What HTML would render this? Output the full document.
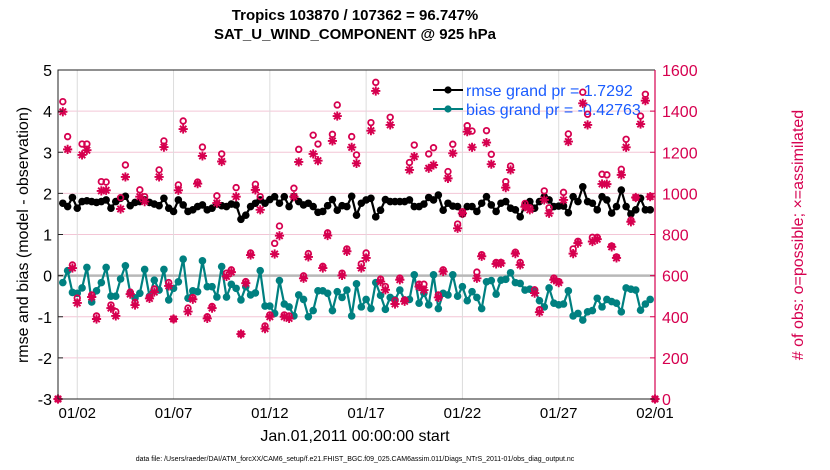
<!DOCTYPE html>
<html><head><meta charset="utf-8"><style>
html,body{margin:0;padding:0;background:#fff;}
svg{display:block;font-family:"Liberation Sans",sans-serif;}
</style></head><body>
<svg id="chart" width="830" height="470" viewBox="0 0 830 470" xmlns="http://www.w3.org/2000/svg">
<text x="355" y="20" text-anchor="middle" font-size="15" font-weight="bold">Tropics 103870 / 107362 = 96.747%</text>
<text x="355" y="39" text-anchor="middle" font-size="15" font-weight="bold">SAT_U_WIND_COMPONENT @ 925 hPa</text>
<g id="grid"></g>
<g id="marks"></g>
<g id="axes"></g>
<text transform="translate(28,235) rotate(-90)" text-anchor="middle" font-size="16">rmse and bias (model - observation)</text>
<text transform="translate(803,235) rotate(-90)" text-anchor="middle" font-size="16" fill="#d6004f"># of obs: o=possible; ×=assimilated</text>
<text x="355" y="441" text-anchor="middle" font-size="16">Jan.01,2011 00:00:00 start</text>
<text x="355" y="461" text-anchor="middle" font-size="7">data file: /Users/raeder/DAI/ATM_forcXX/CAM6_setup/f.e21.FHIST_BGC.f09_025.CAM6assim.011/Diags_NTrS_2011-01/obs_diag_output.nc</text>
</svg>
<script>
const rmse=[1.76,1.68,1.90,1.64,1.80,1.82,1.80,1.78,1.80,1.84,1.64,1.80,1.88,1.93,1.70,1.78,1.80,1.84,1.78,1.74,1.70,1.88,1.64,1.56,1.84,1.72,1.56,1.60,1.68,1.72,1.60,1.64,1.74,1.70,1.68,1.74,1.72,1.37,1.47,1.68,
1.76,1.84,1.76,1.85,1.92,1.76,1.92,1.68,1.92,1.80,1.72,1.76,1.68,1.54,1.56,1.70,1.85,1.59,1.70,1.68,1.93,1.47,1.76,1.84,1.88,1.43,1.59,1.85,1.80,1.80,1.80,1.80,1.84,1.68,1.68,1.74,1.90,1.84,1.96,1.59,1.76,
1.69,1.68,1.50,1.68,1.68,1.56,1.76,1.92,1.72,1.56,1.76,1.80,1.64,1.60,1.43,1.72,1.80,1.64,1.80,1.92,1.84,1.68,1.69,1.69,1.53,1.92,1.80,2.16,1.80,1.76,1.60,1.92,1.84,1.52,1.68,2.08,1.68,1.50,1.60,1.88,1.60,1.60];
const bias=[-0.17,0.12,-0.41,-0.43,-0.30,0.20,-0.64,-0.37,-0.17,0.20,-0.50,-0.50,-0.08,0.24,-0.42,-0.54,-0.43,0.15,-0.50,-0.11,-0.35,0.15,-0.59,-0.31,-0.15,0.40,-0.55,-0.37,-0.39,0.36,-0.27,-0.27,-0.52,0.22,-0.52,-0.21,-0.31,-0.59,-0.27,-0.47,
-0.42,0.12,-0.74,-0.74,-0.92,-0.12,-0.69,-0.76,-0.98,-0.47,-0.58,-1.00,-0.85,-0.37,-0.37,-0.43,-0.85,-0.39,-0.53,-0.35,-0.98,-0.20,-0.76,-0.58,-0.80,-0.17,-0.48,-0.82,-0.53,-0.59,-0.35,-0.59,-0.58,0.02,-0.67,-0.43,-0.71,0.02,-0.80,-0.43,-0.47,
0.02,-0.50,-0.27,-0.61,-0.39,-0.53,-0.80,-0.15,-0.12,-0.45,-0.11,-0.09,0.07,-0.17,-0.19,-0.35,-0.33,-0.35,-0.61,-0.76,-0.30,-0.67,-0.71,-0.69,-0.37,-0.98,-0.92,-1.08,-0.88,-0.85,-0.55,-0.76,-0.58,-0.63,-0.67,-0.88,-0.30,-0.33,-0.35,-0.84,-0.69,-0.58];
const nPossible=[0,1446,1276,652,491,1240,1240,506,404,1057,1055,457,425,979,1138,520,470,1017,984,496,535,1114,1255,566,389,1041,1352,442,493,1055,1225,400,450,988,1192,612,628,1028,316,571,710,
1044,984,355,409,757,841,409,404,1025,1214,599,707,1283,1240,645,808,1287,1430,612,730,1276,1187,657,710,1344,1540,583,547,1370,479,588,482,1150,1235,558,558,1192,1222,506,628,1106,
1239,851,911,1329,1303,617,702,1305,1190,664,664,1057,1133,714,664,951,930,531,434,1012,930,588,571,1005,1289,730,767,1492,1385,786,786,1093,1090,744,691,1117,1263,870,980,1376,1482,984,0];
const nAssim=[0,1397,1214,637,467,1187,1210,496,389,1012,1015,442,404,924,1080,510,457,984,960,489,520,1080,1225,550,389,1015,1313,425,485,1047,1182,392,442,953,1155,596,617,984,316,563,700,
1017,920,342,400,705,794,400,392,984,1153,587,691,1192,1159,637,795,1255,1376,601,718,1224,1146,637,686,1305,1498,571,531,1333,462,580,475,1114,1179,547,530,1122,1138,494,620,1073,
1195,830,903,1300,1224,587,694,1247,1142,657,660,1028,1114,707,652,935,920,515,422,968,903,580,566,968,1252,707,758,1438,1333,766,777,1046,1045,740,686,1090,1224,862,980,1337,1451,984,0];
const xTickLabels=["01/02","01/07","01/12","01/17","01/22","01/27","02/01"];
const xTickDays=[1,6,11,16,21,26,31];
const yTicks=[-3,-2,-1,0,1,2,3,4,5];
const y2Ticks=[0,200,400,600,800,1000,1200,1400,1600];

const NS="http://www.w3.org/2000/svg";
const L=58,R=655,T=70,B=399;
const xs=d=>L+(d/31)*(R-L);
const ys=v=>B-(v+3)/8*(B-T);
const y2s=c=>B-c/1600*(B-T);
const crim="#d6004f", teal="#008080";
function mk(tag,attrs,parent){const e=document.createElementNS(NS,tag);for(const k in attrs)e.setAttribute(k,attrs[k]);parent.appendChild(e);return e;}
const grid=document.getElementById('grid'),marks=document.getElementById('marks'),axes=document.getElementById('axes');

yTicks.forEach(v=>{
  if(v>-3&&v<5){const g=mk('line',{x1:L,x2:R,y1:ys(v),y2:ys(v),stroke:'#f3c6d6','stroke-width':1},grid);
  
  }
  const t=mk('text',{x:L-6,y:ys(v)+6,'text-anchor':'end','font-size':16},axes);t.textContent=v;
  
  
  mk('line',{x1:L,x2:L+5,y1:ys(v),y2:ys(v),stroke:'#222'},axes);
});
y2Ticks.forEach(c=>{
  const t=mk('text',{x:R+7,y:y2s(c)+6,'font-size':16,fill:crim},axes);t.textContent=c;
  
  
  mk('line',{x1:R-5,x2:R,y1:y2s(c),y2:y2s(c),stroke:crim},axes);
});
xTickDays.forEach((d,i)=>{
  const g=mk('line',{x1:xs(d),x2:xs(d),y1:T,y2:B,stroke:'#dcdcdc'},grid);
  
  
  const t=mk('text',{x:xs(d),y:B+19,'text-anchor':'middle','font-size':15},axes);t.textContent=xTickLabels[i];
  
  
});
const zl=mk('line',{x1:L,x2:R,y1:ys(0),y2:ys(0),stroke:'#b8b8b8','stroke-width':2.5},grid);



function legend(y,color,label,name){
  const g=mk('g',{},marks);
  
  
  mk('line',{x1:433,x2:463,y1:y,y2:y,stroke:color,'stroke-width':2},g);
  mk('circle',{cx:448,cy:y,r:3.6,fill:color},g);
  const t=mk('text',{x:466,y:y+6,'font-size':16,fill:'#1a5cff'},g);t.textContent=label;
}
legend(90,'#000','rmse grand pr =  1.7292','legend-rmse');
legend(109,teal,'bias grand pr = -0.42763','legend-bias');

const tAt=i=>(i+1)*0.25;
function series(arr,color,name){
  const pts=arr.map((v,i)=>xs(tAt(i))+','+ys(v)).join(' ');
  const pl=mk('polyline',{points:pts,fill:'none',stroke:color,'stroke-width':2.2},marks);
  
  
  arr.forEach((v,i)=>{const c=mk('circle',{cx:xs(tAt(i)),cy:ys(v),r:3.8,fill:color},marks);
    
    });
}
series(rmse,'#000','rmse');
series(bias,teal,'bias');

const obsT=i=>i*0.25;
nPossible.forEach((c,i)=>{
  const e=mk('circle',{cx:xs(obsT(i)),cy:y2s(c),r:2.8,fill:'none',stroke:crim,'stroke-width':1.8},marks);
  
  
});
nAssim.forEach((c,i)=>{
  const x=xs(obsT(i)),y=y2s(c),s=4.6;
  const d=`M${x-s},${y}H${x+s}M${x},${y-s}V${y+s}M${x-s*0.7},${y-s*0.7}L${x+s*0.7},${y+s*0.7}M${x-s*0.7},${y+s*0.7}L${x+s*0.7},${y-s*0.7}`;
  const e=mk('path',{d:d,stroke:crim,'stroke-width':1.9,fill:'none'},marks);
  
  
});

const fr=mk('path',{d:`M${L},${B}V${T}H${R}`,fill:'none',stroke:'#222','stroke-width':1},axes);


const bx=mk('line',{x1:L,x2:R,y1:B,y2:B,stroke:'#222'},axes);


const ra=mk('line',{x1:R,x2:R,y1:T,y2:B,stroke:crim,'stroke-width':1.2},axes);


</script>
</body></html>
